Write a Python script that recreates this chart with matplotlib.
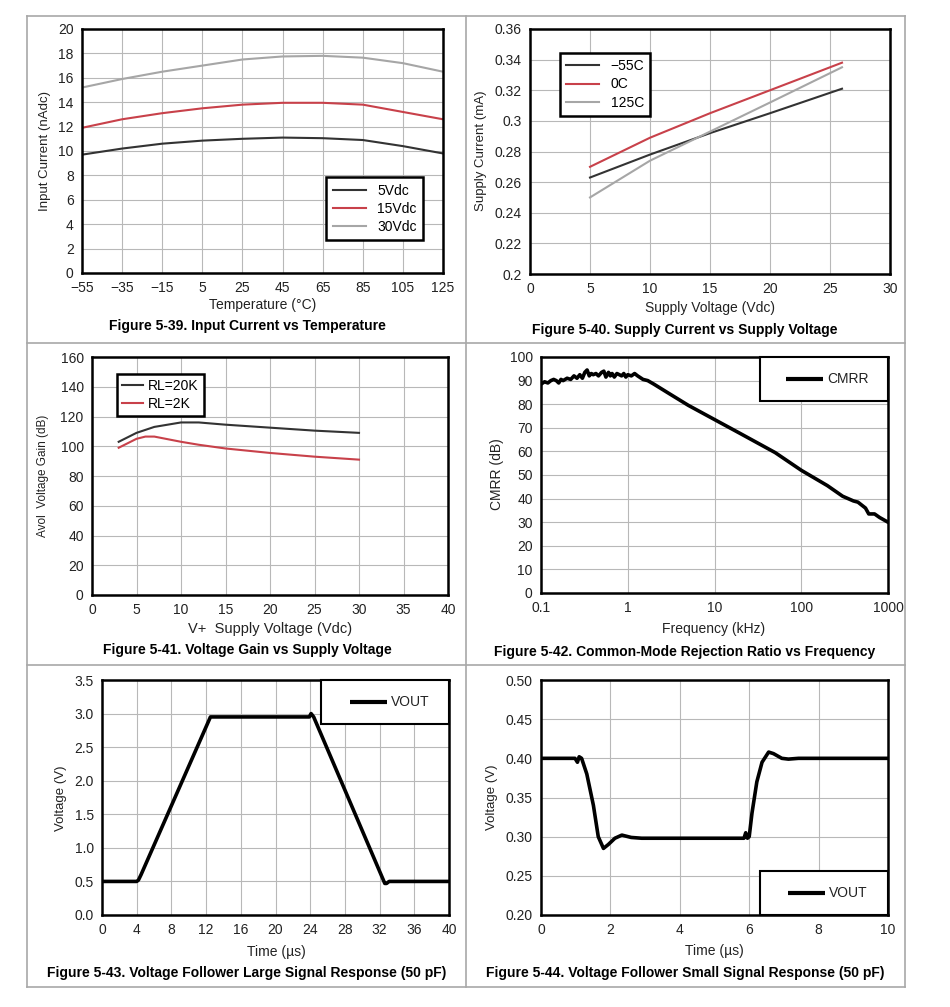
import numpy as np
import matplotlib
matplotlib.use('Agg')
import matplotlib.pyplot as plt
from matplotlib.patches import Rectangle
from matplotlib.lines import Line2D

plt.rcParams['font.family'] = ['Liberation Sans', 'DejaVu Sans']

# ---------- data ----------
# Figure 5-39
temp = [-55, -35, -15, 5, 25, 45, 65, 85, 105, 125]
ib_5v = [9.7, 10.2, 10.6, 10.85, 11.0, 11.1, 11.05, 10.9, 10.4, 9.8]
ib_15v = [11.9, 12.6, 13.1, 13.5, 13.8, 13.95, 13.95, 13.8, 13.2, 12.6]
ib_30v = [15.2, 15.9, 16.5, 17.0, 17.5, 17.75, 17.8, 17.65, 17.2, 16.5]

# Figure 5-40
vsup = [5, 10, 15, 20, 26]
icc_m55 = [0.263, 0.278, 0.292, 0.305, 0.321]
icc_0 = [0.270, 0.289, 0.305, 0.320, 0.338]
icc_125 = [0.250, 0.274, 0.293, 0.312, 0.335]

# Figure 5-41
vgain = [3, 5, 6, 7, 10, 12, 15, 20, 25, 30]
avol_20k = [103, 109, 111, 113, 116, 116, 114.5, 112.5, 110.5, 109]
avol_2k = [99, 105, 106.5, 106.5, 103, 101, 98.5, 95.5, 93, 91]

# Figure 5-42
freq = [0.1, 0.11, 0.12, 0.13, 0.14, 0.15, 0.16, 0.17, 0.18, 0.2, 0.22, 0.24,
        0.26, 0.28, 0.3, 0.32, 0.34, 0.36, 0.38, 0.4, 0.43, 0.46, 0.5, 0.53,
        0.56, 0.6, 0.63, 0.66, 0.7, 0.75, 0.8, 0.85, 0.9, 0.95, 1.0, 1.1, 1.2,
        1.3, 1.5, 1.7, 2, 3, 5, 10, 20, 50, 100, 200, 300, 400, 450, 550, 600,
        700, 800, 1000]
cmrr = [88.5, 89.5, 89, 90, 90.5, 90, 89, 90.5, 90, 91, 90.5, 92,
        91, 92.5, 91, 93.5, 94.5, 92, 93, 92.5, 93, 92, 93.5, 94,
        91.5, 93.5, 92, 93, 91.5, 93, 92.5, 92, 93, 91.5, 92.5, 92, 93,
        92, 90.5, 90, 88.5, 84.5, 79.5, 73.5, 67.5, 59.5, 52, 45.5, 41, 39,
        38.5, 36, 33.5, 33.5, 32, 30]

# Figure 5-43
t_large = [0, 4, 4.2, 4.5, 12.5, 23.9, 24.1, 24.4, 32.6, 32.8, 33.1, 40]
v_large = [0.5, 0.5, 0.52, 0.6, 2.95, 2.95, 3.0, 2.95, 0.47, 0.47, 0.5, 0.5]

# Figure 5-44
t_small = [0, 0.98, 1.05, 1.1, 1.17, 1.32, 1.51, 1.65, 1.8, 1.94, 2.13, 2.33,
           2.6, 2.9, 5.85, 5.9, 5.95, 6.0, 6.08, 6.22, 6.37, 6.56, 6.7, 6.94,
           7.13, 7.42, 10]
v_small = [0.40, 0.40, 0.395, 0.402, 0.40, 0.38, 0.34, 0.30, 0.285, 0.29,
           0.298, 0.302, 0.299, 0.298, 0.298, 0.305, 0.298, 0.30, 0.33, 0.37,
           0.395, 0.408, 0.406, 0.400, 0.399, 0.400, 0.400]

W, H = 950, 1007
fig = plt.figure(figsize=(W / 100, H / 100), dpi=100)

DARK = '#333333'
RED = '#c8414a'
GRAY = '#a6a6a6'
TXT = '#222222'


def px_axes(l, t, r, b):
    return fig.add_axes([l / W, 1 - b / H, (r - l) / W, (b - t) / H])


def style(ax):
    for s in ax.spines.values():
        s.set_linewidth(1.8)
        s.set_color('black')
    ax.grid(True, color='#b8b8b8', lw=0.8)
    ax.set_axisbelow(True)
    ax.tick_params(length=0, labelsize=10, colors=TXT, pad=6)


def ftext(x, y, s, **kw):
    fig.text(x / W, 1 - y / H, s, ha='center', va='center', **kw)


def box_legend(ax, rect, label, line_x, text_x, y):
    ax.add_patch(Rectangle(rect[:2], rect[2], rect[3], transform=ax.transAxes,
                           facecolor='white', edgecolor='black', lw=1.5,
                           zorder=5, clip_on=False))
    ax.add_line(Line2D(line_x, [y, y], transform=ax.transAxes, color='black',
                       lw=3, zorder=6, solid_capstyle='butt'))
    ax.text(text_x, y, label, transform=ax.transAxes, ha='left', va='center',
            fontsize=10, color=TXT, zorder=6)


# frame of the table
fc = '#a8a8a8'
for y in [16, 343, 665, 987]:
    fig.add_artist(Line2D([27 / W, 905 / W], [1 - y / H] * 2, color=fc, lw=1.2))
for x in [27, 466, 905]:
    fig.add_artist(Line2D([x / W] * 2, [1 - 16 / H, 1 - 987 / H], color=fc, lw=1.2))

# ---- Figure 5-39 ----
ax = px_axes(82, 29, 443, 273)
style(ax)
ax.plot(temp, ib_5v, color=DARK, lw=1.5, label='5Vdc')
ax.plot(temp, ib_15v, color=RED, lw=1.5, label='15Vdc')
ax.plot(temp, ib_30v, color=GRAY, lw=1.5, label='30Vdc')
ax.set_xlim(-55, 125)
ax.set_ylim(0, 20)
ax.set_xticks(range(-55, 126, 20))
ax.set_xticklabels(['\u221255', '\u221235', '\u221215', '5', '25', '45', '65', '85', '105', '125'])
ax.set_yticks(range(0, 21, 2))
leg = ax.legend(loc='lower right', bbox_to_anchor=(0.944, 0.134), borderaxespad=0,
                fancybox=False, framealpha=1, edgecolor='black', fontsize=10,
                handlelength=2.4, labelspacing=0.3, borderpad=0.45)
leg.get_frame().set_linewidth(1.8)
ftext(263, 305, 'Temperature (°C)', fontsize=10, color=TXT)
ftext(45, 151, 'Input Current (nAdc)', fontsize=9.5, color=TXT, rotation=90)
ftext(247, 326, 'Figure 5-39. Input Current vs Temperature', fontsize=10, fontweight='bold')

# ---- Figure 5-40 ----
ax = px_axes(530, 29, 890, 274)
style(ax)
ax.plot(vsup, icc_m55, color=DARK, lw=1.5, label='\u221255C')
ax.plot(vsup, icc_0, color=RED, lw=1.5, label='0C')
ax.plot(vsup, icc_125, color=GRAY, lw=1.5, label='125C')
ax.set_xlim(0, 30)
ax.set_ylim(0.2, 0.36)
ax.set_xticks(range(0, 31, 5))
ax.set_yticks(np.arange(0.2, 0.361, 0.02))
ax.set_yticklabels(['0.2', '0.22', '0.24', '0.26', '0.28', '0.3', '0.32', '0.34', '0.36'])
leg = ax.legend(loc='upper left', bbox_to_anchor=(0.083, 0.902), borderaxespad=0,
                fancybox=False, framealpha=1, edgecolor='black', fontsize=10,
                handlelength=2.4, labelspacing=0.3, borderpad=0.45)
leg.get_frame().set_linewidth(1.8)
ftext(710, 308, 'Supply Voltage (Vdc)', fontsize=10, color=TXT)
ftext(481, 151, 'Supply Current (mA)', fontsize=9.5, color=TXT, rotation=90)
ftext(685, 330, 'Figure 5-40. Supply Current vs Supply Voltage', fontsize=10, fontweight='bold')

# ---- Figure 5-41 ----
ax = px_axes(92, 357, 448, 595)
style(ax)
ax.plot(vgain, avol_20k, color=DARK, lw=1.5, label='RL=20K')
ax.plot(vgain, avol_2k, color=RED, lw=1.5, label='RL=2K')
ax.set_xlim(0, 40)
ax.set_ylim(0, 160)
ax.set_xticks(range(0, 41, 5))
ax.set_yticks(range(0, 161, 20))
leg = ax.legend(loc='upper left', bbox_to_anchor=(0.07, 0.93), borderaxespad=0,
                fancybox=False, framealpha=1, edgecolor='black', fontsize=10,
                handlelength=1.5, labelspacing=0.3, borderpad=0.35, handletextpad=0.4)
leg.get_frame().set_linewidth(1.8)
ftext(270, 629, 'V+  Supply Voltage (Vdc)', fontsize=10.5, color=TXT)
ftext(43, 476, 'Avol  Voltage Gain (dB)', fontsize=8.5, color=TXT, rotation=90)
ftext(247, 650, 'Figure 5-41. Voltage Gain vs Supply Voltage', fontsize=10, fontweight='bold')

# ---- Figure 5-42 ----
ax = px_axes(541, 357, 888, 593)
style(ax)
ax.semilogx(freq, cmrr, color='black', lw=2.6)
ax.set_xlim(0.1, 1000)
ax.set_ylim(0, 100)
ax.set_xticks([0.1, 1, 10, 100, 1000])
ax.set_xticklabels(['0.1', '1', '10', '100', '1000'])
ax.minorticks_off()
ax.set_yticks(range(0, 101, 10))
box_legend(ax, (0.631, 0.812, 0.369, 0.188), 'CMRR', [0.707, 0.813], 0.826, 0.908)
ftext(714, 629, 'Frequency (kHz)', fontsize=10, color=TXT)
ftext(497, 474, 'CMRR (dB)', fontsize=10, color=TXT, rotation=90)
ftext(685, 652, 'Figure 5-42. Common-Mode Rejection Ratio vs Frequency', fontsize=10, fontweight='bold')

# ---- Figure 5-43 ----
ax = px_axes(102, 680, 449, 915)
style(ax)
ax.plot(t_large, v_large, color='black', lw=2.6)
ax.set_xlim(0, 40)
ax.set_ylim(0, 3.5)
ax.set_xticks(range(0, 41, 4))
ax.set_yticks(np.arange(0, 3.51, 0.5))
ax.set_yticklabels(['%.1f' % v for v in np.arange(0, 3.51, 0.5)])
box_legend(ax, (0.632, 0.814, 0.368, 0.186), 'VOUT', [0.714, 0.82], 0.832, 0.908)
ftext(276, 952, 'Time (\u00b5s)', fontsize=10, color=TXT)
ftext(61, 798, 'Voltage (V)', fontsize=9.5, color=TXT, rotation=90)
ftext(247, 973, 'Figure 5-43. Voltage Follower Large Signal Response (50 pF)', fontsize=10, fontweight='bold')

# ---- Figure 5-44 ----
ax = px_axes(541, 680, 888, 915)
style(ax)
ax.plot(t_small, v_small, color='black', lw=2.6)
ax.set_xlim(0, 10)
ax.set_ylim(0.2, 0.5)
ax.set_xticks(range(0, 11, 2))
ax.set_yticks(np.arange(0.2, 0.501, 0.05))
ax.set_yticklabels(['%.2f' % v for v in np.arange(0.2, 0.501, 0.05)])
box_legend(ax, (0.632, 0.0, 0.368, 0.187), 'VOUT', [0.713, 0.819], 0.83, 0.092)
ftext(714, 951, 'Time (\u00b5s)', fontsize=10, color=TXT)
ftext(492, 797, 'Voltage (V)', fontsize=9.5, color=TXT, rotation=90)
ftext(685, 973, 'Figure 5-44. Voltage Follower Small Signal Response (50 pF)', fontsize=10, fontweight='bold')

fig.savefig('out.png', dpi=100, facecolor='white')
